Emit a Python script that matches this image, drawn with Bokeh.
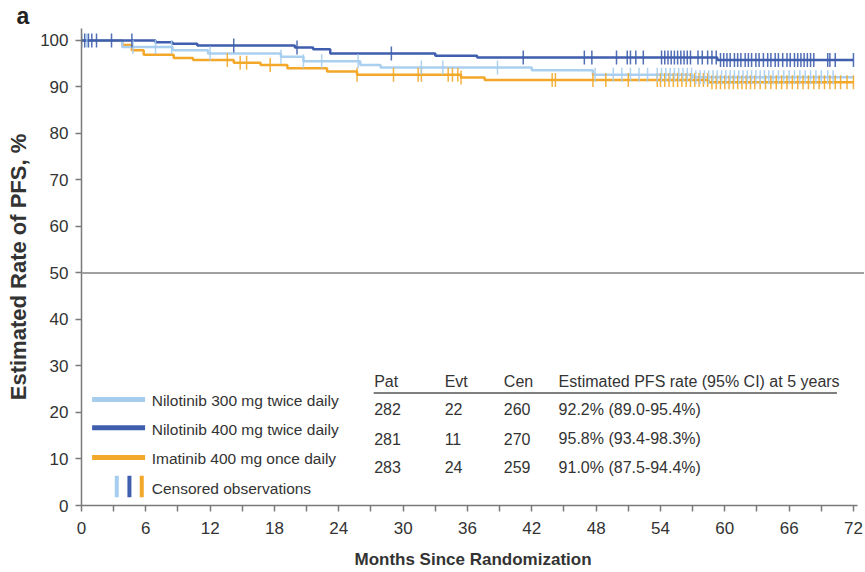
import numpy as np
from bokeh.plotting import figure
from bokeh.models import Range1d, FixedTicker, Span, Title
from bokeh.core.properties import value
from bokeh.embed import file_html
from bokeh.resources import INLINE

# ---- data ----
months_ticks = [0, 6, 12, 18, 24, 30, 36, 42, 48, 54, 60, 66, 72]
months_minor = [3, 9, 15, 21, 27, 33, 39, 45, 51, 57, 63, 69]
rate_ticks = [0, 10, 20, 30, 40, 50, 60, 70, 80, 90, 100]

series_names = ["Nilotinib 300 mg twice daily", "Nilotinib 400 mg twice daily", "Imatinib 400 mg once daily"]

n300_t = [0, 3.8, 8.5, 11.8, 18.6, 20.7, 26.0, 27.9, 42.0, 47.7, 57.0, 72.0]
n300_s = [100, 98.6, 97.9, 97.2, 96.5, 95.5, 94.7, 94.2, 93.6, 92.6, 92.1, 92.1]

n400_t = [0, 6.9, 8.5, 10.8, 19.9, 21.6, 23.2, 33.0, 36.9, 59.3, 72.0]
n400_s = [100, 99.6, 99.3, 98.9, 98.5, 98.1, 97.2, 96.7, 96.3, 95.8, 95.8]

imat_t = [0, 3.8, 4.7, 5.8, 8.6, 10.4, 14.2, 16.7, 19.2, 22.9, 25.7, 35.4, 37.6, 58.5, 72.0]
imat_s = [100, 99.0, 97.9, 96.9, 96.2, 95.8, 95.2, 94.7, 94.0, 93.3, 92.6, 92.0, 91.5, 91.0, 91.0]

n300_cens = [0.5, 4.8, 6.9, 8.4, 12.0, 18.6, 20.7, 22.4, 25.8, 31.7, 33.7, 38.8, 47.9, 49.6, 50.4,
             51.2, 52.0, 52.8, 53.7, 54.1, 54.5, 54.9, 55.3, 55.7, 56.1, 56.5, 56.9, 57.3, 57.7,
             58.1, 58.5, 58.9, 59.3, 59.7, 60.1, 60.5, 60.9, 61.3, 61.7, 62.1, 62.5, 62.9, 63.3,
             63.7, 64.1, 64.5, 65.0, 65.5, 66.0, 66.5, 67.0, 67.5, 68.0, 68.5, 69.0, 69.6, 70.1]
n400_cens = [0.0, 0.3, 0.65, 0.96, 1.4, 2.8, 4.7, 14.2, 20.1, 28.9, 41.2, 46.9, 47.6, 49.9, 50.9,
             51.2, 51.7, 52.4, 54.1, 54.4, 54.7, 55.0, 55.3, 55.6, 55.9, 56.2, 56.5, 56.8, 57.5,
             57.9, 58.4, 58.8, 59.2, 59.6, 59.9, 60.2, 60.5, 60.9, 61.2, 61.5, 61.9, 62.2, 62.5,
             62.9, 63.2, 63.6, 64.0, 64.3, 64.7, 65.0, 65.4, 65.8, 66.1, 66.5, 66.8, 67.1, 67.4,
             67.7, 68.0, 68.3, 69.6, 69.8, 70.3, 72.0]
imat_cens = [13.6, 14.8, 15.4, 17.6, 25.7, 29.1, 31.4, 31.7, 34.2, 34.6, 35.1, 35.4, 43.9, 44.2,
             47.7, 48.9, 51.0, 53.7, 54.0, 54.4, 54.8, 55.2, 55.6, 56.0, 56.4, 56.8, 57.2, 57.6,
             58.0, 58.4, 58.8, 59.2, 59.6, 60.0, 60.4, 60.8, 61.2, 61.6, 62.0, 62.4, 62.8, 63.3,
             63.8, 64.3, 64.8, 65.3, 65.8, 66.3, 66.8, 67.3, 67.8, 68.3, 68.8, 69.3, 69.8, 70.3,
             70.8, 71.4, 72.0]

table_header = ["Pat", "Evt", "Cen", "Estimated PFS rate (95% CI) at 5 years"]
table_pat = ["282", "281", "283"]
table_evt = ["22", "11", "24"]
table_cen = ["260", "270", "259"]
table_rate = ["92.2% (89.0-95.4%)", "95.8% (93.4-98.3%)", "91.0% (87.5-94.4%)"]

# ---- styles ----
C_LIGHT = "#a6cdee"
C_DARK = "#3f5ead"
C_ORANGE = "#f3a82a"
TXT = "#333333"
FONT = "Liberation Sans"

p = figure(width=864, height=571, output_backend="svg", toolbar_location=None,
           x_range=Range1d(0, 73.03), y_range=Range1d(0, 102.56),
           min_border_left=81, min_border_right=0, min_border_top=25, min_border_bottom=66,
           outline_line_color=None, background_fill_color="white", border_fill_color="white")
p.grid.visible = False

# panel label
t = Title(text="a", text_font=FONT, text_font_size="23px", text_font_style="bold",
          text_color="#222222", align="left", offset=-65, standoff=0)
p.add_layout(t, "above")

# axes
p.xaxis.ticker = FixedTicker(ticks=months_ticks, minor_ticks=months_minor)
p.yaxis.ticker = FixedTicker(ticks=rate_ticks, minor_ticks=[])
p.xaxis.bounds = (-0.55, 72.4)
for ax in (p.xaxis, p.yaxis):
    ax.axis_line_color = "#7a7a7a"
    ax.axis_line_width = 1.5
    ax.major_tick_line_color = "#7a7a7a"
    ax.major_tick_line_width = 1.5
    ax.major_tick_in = 0
    ax.major_tick_out = 6
    ax.major_label_text_font = FONT
    ax.major_label_text_font_size = "17px"
    ax.major_label_text_color = TXT
    ax.axis_label_text_font = FONT
    ax.axis_label_text_font_style = "bold"
    ax.axis_label_text_color = TXT
p.xaxis.minor_tick_line_color = "#7a7a7a"
p.xaxis.minor_tick_line_width = 1.5
p.xaxis.minor_tick_in = 0
p.xaxis.minor_tick_out = 6
p.yaxis.minor_tick_line_color = None
p.xaxis.major_label_standoff = 10
p.yaxis.major_label_standoff = 7
p.xaxis.axis_label = "Months Since Randomization"
p.xaxis.axis_label_text_font_size = "17px"
p.xaxis.axis_label_standoff = 13
p.yaxis.axis_label = "Estimated Rate of PFS, %"
p.yaxis.axis_label_text_font_size = "22px"
p.yaxis.axis_label_standoff = 6

# reference line at 50%
p.add_layout(Span(location=50, dimension="width", line_color="#a0a0a0", line_width=2))


def step_at(t, s, c):
    t = np.asarray(t); s = np.asarray(s); c = np.asarray(c)
    idx = np.searchsorted(t, c, side="right") - 1
    idx = np.clip(idx, 0, len(s) - 1)
    return s[idx]


curves = [
    (imat_t, imat_s, imat_cens, C_ORANGE, 1.0),
    (n300_t, n300_s, n300_cens, C_LIGHT, 0.95),
    (n400_t, n400_s, n400_cens, C_DARK, 1.0),
]
for t_, s_, cens, col, a in curves:
    p.step(t_, s_, mode="after", line_color=col, line_width=2.5, line_alpha=a)
for t_, s_, cens, col, a in curves:
    p.scatter(cens, step_at(t_, s_, cens), marker="dash", angle=np.pi / 2, size=14,
              line_color=col, line_width=1.5, line_alpha=0.9)

# legend (manual)
leg_colors = [C_LIGHT, C_DARK, C_ORANGE]
leg_line_y = [22.8, 16.7, 10.3]
leg_text_y = [22.5, 16.3, 10.1]
p.segment(x0=[0.99] * 3, x1=[5.93] * 3, y0=leg_line_y, y1=leg_line_y,
          line_color=leg_colors, line_width=5)
p.text(x=[6.55] * 3, y=leg_text_y, text=series_names, text_font=value(FONT),
       text_font_size="15.5px", text_color=TXT, text_baseline="middle", text_align="left")
p.segment(x0=[3.29, 4.47, 5.62], x1=[3.29, 4.47, 5.62], y0=[1.8] * 3, y1=[6.4] * 3,
          line_color=leg_colors, line_width=4)
p.text(x=[6.55], y=[3.6], text=["Censored observations"], text_font=value(FONT),
       text_font_size="15.5px", text_color=TXT, text_baseline="middle", text_align="left")

# table (manual)
col_x = [27.3, 33.87, 39.39, 44.5]
p.text(x=col_x, y=[26.7] * 4, text=table_header, text_font=value(FONT),
       text_font_size="16px", text_color=TXT, text_baseline="middle", text_align="left")
p.segment(x0=[27.25], x1=[70.46], y0=[24.2], y1=[24.2], line_color="#555555", line_width=1.5)
row_y = [20.7, 14.3, 8.2]
for cx, colvals in zip(col_x, [table_pat, table_evt, table_cen, table_rate]):
    p.text(x=[cx] * 3, y=row_y, text=colvals, text_font=value(FONT),
           text_font_size="16px", text_color=TXT, text_baseline="middle", text_align="left")

open("out.html", "w").write(file_html(p, INLINE))
